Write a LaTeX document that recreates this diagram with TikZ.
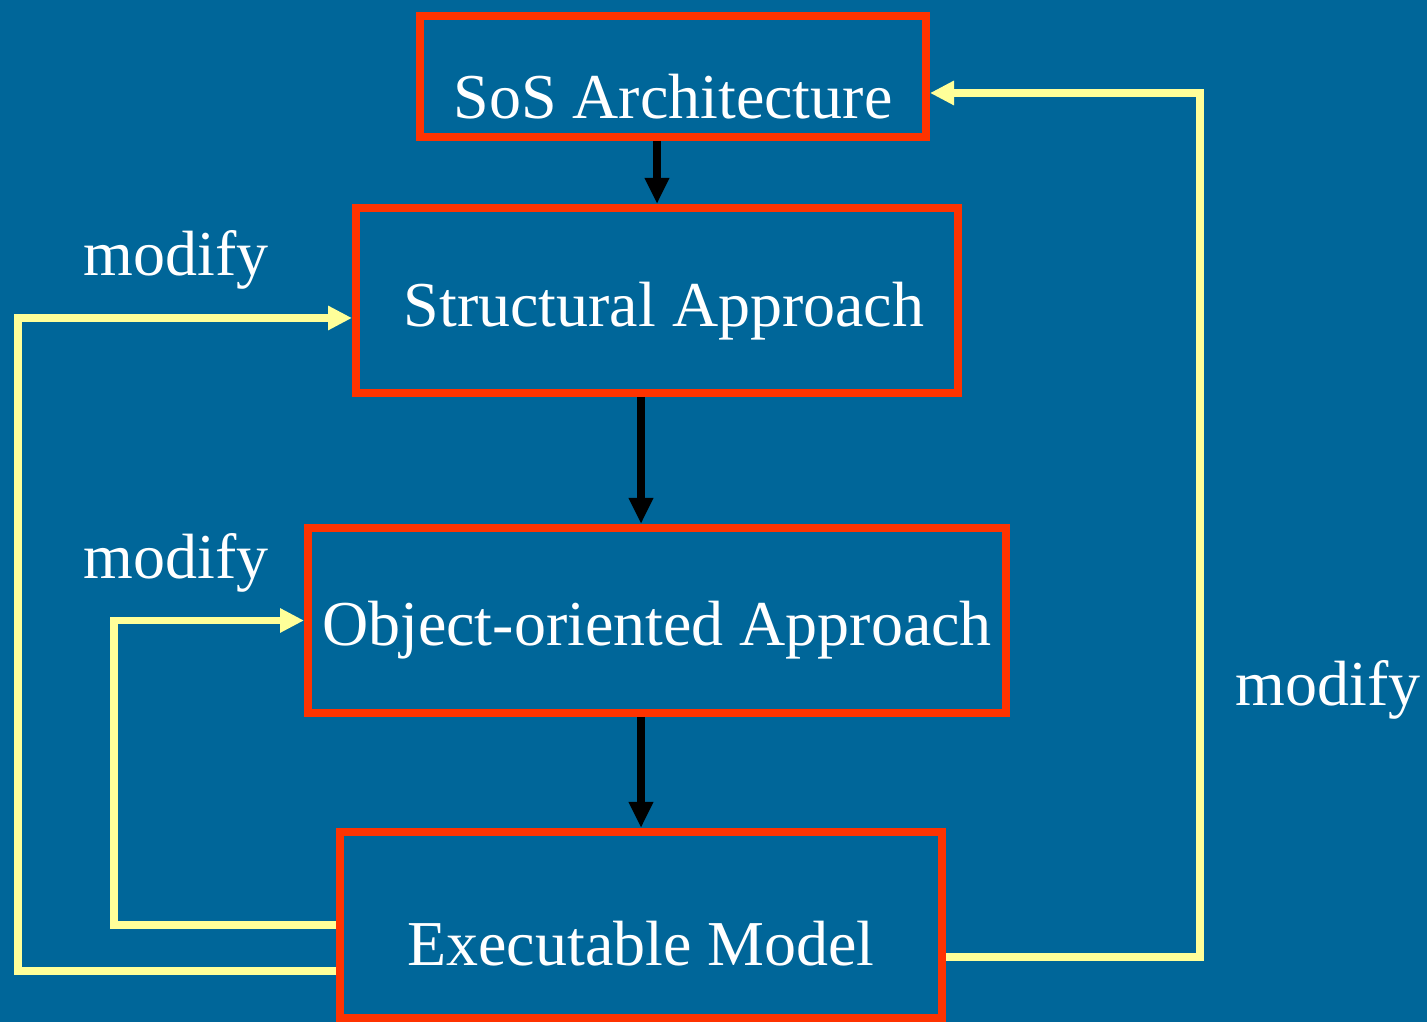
\documentclass[tikz,border=0pt]{standalone}
\usepackage{fontspec}
\setmainfont{Liberation Serif}
\usetikzlibrary{arrows.meta}

\definecolor{slideblue}{RGB}{0,102,153}
\definecolor{boxred}{RGB}{255,51,0}
\definecolor{loopyellow}{RGB}{255,255,153}

\tikzset{
  box/.style = {draw = boxred, line width = .16cm, text = white,
    inner sep = 0pt, text depth = 0pt},
  flow/.style = {line width = .16cm, black,
    -{Triangle[length = .52cm, width = .46cm]}},
  feedback/.style = {line width = .15cm, loopyellow,
    -{Triangle[length = .48cm, width = .46cm]}},
  note/.style = {text = white}
}

\begin{document}
\begin{tikzpicture}[font = \fontsize{36.4}{43}\selectfont]
  \fill[slideblue] (0, 0) rectangle (28.54, 20.44);
  \useasboundingbox (0, 0) rectangle (28.54, 20.44);

  \node[box, minimum width = 10.12cm, minimum height = 2.42cm,
  text height = 1.68cm] (sos) at (13.46, 18.91) {SoS Architecture};
  \node[box, minimum width = 12.04cm, minimum height = 3.7cm,
  text height = 1.04cm] (struct) at (13.14, 14.43) {\hspace{.28cm}Structural Approach};
  \node[box, minimum width = 13.96cm, minimum height = 3.7cm,
  text height = 1.02cm] (obj) at (13.14, 8.03) {Object-oriented Approach};
  \node[box, minimum width = 12.04cm, minimum height = 3.72cm,
  text height = 1.64cm] (exec) at (12.82, 1.94) {Executable Model\hspace{.16cm}};

  \draw[flow] (sos.south -| struct.north) -- (struct.north);
  \draw[flow] (struct.south -| exec.north) -- (obj.north -| exec.north);
  \draw[flow] (obj.south -| exec.north) -- (exec.north);

  \draw[feedback] ([yshift = -.92cm]exec.west) -- ++(-6.36, 0)
  |- ([yshift = -.35cm]struct.west);
  \draw[feedback] (exec.west) -- ++(-4.44, 0) |- (obj.west);
  \draw[feedback] ([yshift = -.64cm]exec.east) -- ++(5.08, 0)
  |- ([yshift = -.33cm]sos.east);

  \node[note] (mod1) at (3.52, 15.24) {modify};
  \node[note] (mod2) at (3.52, 9.18) {modify};
  \node[note] (mod3) at (26.56, 6.64) {modify};
\end{tikzpicture}
\end{document}
